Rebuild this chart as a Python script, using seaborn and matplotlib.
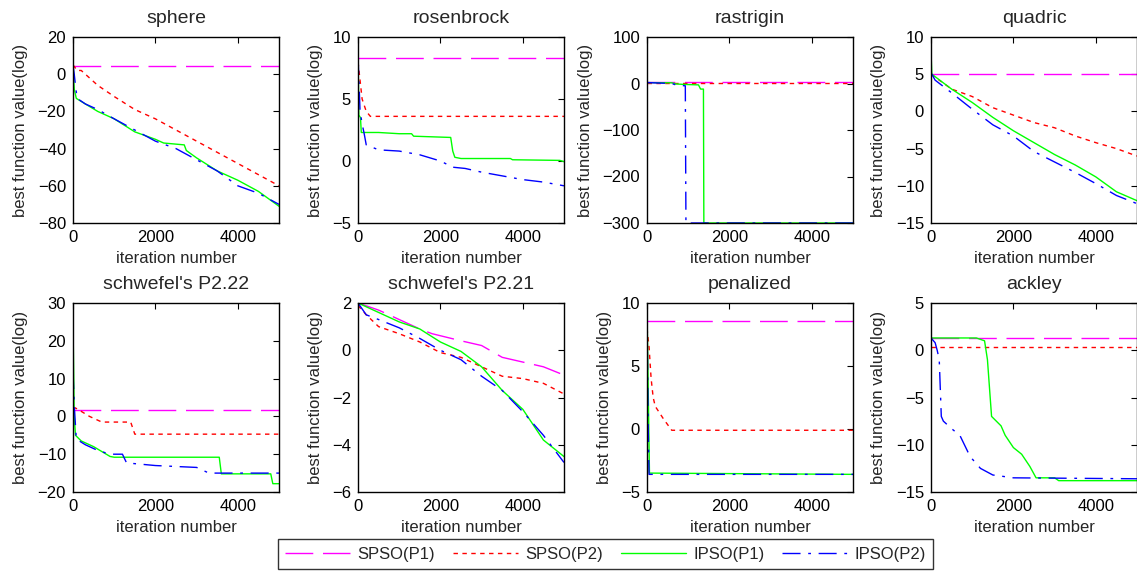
import numpy as np
import pandas as pd
import matplotlib
matplotlib.use("Agg")
import matplotlib.pyplot as plt
import seaborn as sns
from matplotlib.lines import Line2D

# === Data ===
series_names = ["SPSO(P1)", "SPSO(P2)", "IPSO(P1)", "IPSO(P2)"]
titles = ["sphere", "rosenbrock", "rastrigin", "quadric",
          "schwefel's P2.22", "schwefel's P2.21", "penalized", "ackley"]

# sphere
sph_s1_x = [0, 5000]
sph_s1_y = [4.5, 4.5]
sph_s2_x = [0, 100, 200, 600, 1000, 1500, 2000, 2500, 3000, 3500, 4000, 4500, 5000]
sph_s2_y = [5, 2, 2, -6, -12, -19, -24, -30, -36, -42, -48, -54, -60]
sph_i1_x = [0, 30, 80, 300, 600, 1000, 1500, 2000, 2200, 2700, 2750, 3000, 3500, 4000, 4500, 5000]
sph_i1_y = [5, -8, -13, -16, -20, -24, -31, -35, -37, -38, -41, -45, -52, -57, -63, -71]
sph_i2_x = [0, 30, 60, 100, 300, 600, 1000, 1500, 2000, 2500, 3000, 3500, 4000, 4500, 5000]
sph_i2_y = [5, 0, -6, -13, -16, -19, -24, -30, -36, -40, -46, -52, -60, -64, -70]

# rosenbrock
ros_s1_x = [0, 5000]
ros_s1_y = [8.3, 8.3]
ros_s2_x = [0, 50, 100, 200, 300, 5000]
ros_s2_y = [8, 6.5, 5, 4, 3.6, 3.6]
ros_i1_x = [0, 20, 60, 80, 500, 1000, 1300, 1350, 2250, 2300, 2350, 2500, 3700, 3750, 4900, 5000]
ros_i1_y = [9, 3.7, 3.5, 2.3, 2.3, 2.2, 2.2, 2.0, 1.9, 0.8, 0.3, 0.2, 0.2, 0.1, 0.05, -0.05]
ros_i2_x = [0, 50, 100, 150, 200, 500, 1000, 1500, 2000, 2300, 2600, 3000, 3500, 4000, 4500, 5000]
ros_i2_y = [8.5, 4, 3, 2.2, 1.3, 0.9, 0.8, 0.5, 0, -0.5, -0.6, -0.9, -1.2, -1.5, -1.7, -2.0]

# rastrigin
ras_s1_x = [0, 5000]
ras_s1_y = [2.5, 2.5]
ras_s2_x = [0, 5000]
ras_s2_y = [1.8, 1.8]
ras_i1_x = [0, 600, 700, 900, 1250, 1300, 1370, 1380, 5000]
ras_i1_y = [2, 1.5, -1, -2, -3, -12, -12, -300, -300]
ras_i2_x = [0, 600, 700, 930, 945, 5000]
ras_i2_y = [2, 0, -3, -5, -300, -300]

# quadric
qua_s1_x = [0, 5000]
qua_s1_y = [5, 5]
qua_s2_x = [0, 500, 1000, 1500, 2000, 2500, 3000, 3500, 4000, 4500, 5000]
qua_s2_y = [5, 3, 2, 0.5, -0.5, -1.5, -2.2, -3.3, -4.2, -5, -6]
qua_i1_x = [0, 20, 500, 1000, 1500, 2000, 2500, 3000, 3500, 4000, 4500, 5000]
qua_i1_y = [8, 5, 3, 1.2, -0.8, -2.6, -4.2, -5.8, -7.2, -8.8, -10.8, -12]
qua_i2_x = [0, 100, 500, 1000, 1500, 2000, 2500, 3000, 3500, 4000, 4500, 5000]
qua_i2_y = [5.2, 4.2, 2.5, 0.3, -1.8, -3.3, -5.4, -6.8, -8.2, -9.7, -11.3, -12.4]

# schwefel's P2.22
s22_s1_x = [0, 5000]
s22_s1_y = [1.8, 1.8]
s22_s2_x = [0, 100, 400, 700, 1400, 1500, 5000]
s22_s2_y = [2.5, 2, 0, -1.5, -1.5, -4.7, -4.7]
s22_i1_x = [0, 30, 60, 200, 500, 900, 1000, 3550, 3600, 4800, 4850, 5000]
s22_i1_y = [25, 0, -5, -6.5, -8, -10.6, -10.8, -10.8, -15.2, -15.2, -17.8, -17.8]
s22_i2_x = [0, 30, 80, 300, 600, 900, 1200, 1300, 2000, 3000, 3300, 5000]
s22_i2_y = [12, 3, -6, -7.5, -9, -10, -10, -12.3, -13, -13.5, -15, -15]

# schwefel's P2.21
s21_s1_x = [0, 500, 1000, 1500, 1800, 2500, 3000, 3500, 4000, 4500, 5000]
s21_s1_y = [2, 1.7, 1.3, 0.9, 0.7, 0.4, 0.2, -0.3, -0.5, -0.7, -1.05]
s21_s2_x = [0, 200, 500, 1000, 1500, 2000, 2500, 3000, 3500, 4000, 4500, 5000]
s21_s2_y = [1.9, 1.5, 1.0, 0.7, 0.35, -0.1, -0.3, -0.7, -1.1, -1.2, -1.4, -1.85]
s21_i1_x = [0, 500, 1000, 1500, 2000, 2500, 3000, 3500, 4000, 4500, 5000]
s21_i1_y = [2, 1.6, 1.2, 0.9, 0.35, -0.05, -0.7, -1.7, -2.5, -3.8, -4.5]
s21_i2_x = [0, 200, 500, 1000, 1500, 2000, 2500, 3000, 3500, 4000, 4500, 5000]
s21_i2_y = [2, 1.5, 1.3, 0.95, 0.5, 0, -0.4, -1.1, -1.7, -2.6, -3.6, -4.75]

# penalized
pen_s1_x = [0, 5000]
pen_s1_y = [8.6, 8.6]
pen_s2_x = [0, 50, 100, 150, 200, 400, 600, 5000]
pen_s2_y = [8, 6.5, 4, 2.5, 1.8, 0.8, -0.1, -0.1]
pen_i1_x = [0, 30, 60, 5000]
pen_i1_y = [9.5, 3, -3.5, -3.6]
pen_i2_x = [0, 30, 50, 5000]
pen_i2_y = [9, 0, -3.6, -3.6]

# ackley
ack_s1_x = [0, 5000]
ack_s1_y = [1.3, 1.3]
ack_s2_x = [0, 5000]
ack_s2_y = [0.3, 0.3]
ack_i1_x = [0, 1100, 1300, 1370, 1420, 1470, 1700, 1800, 2000, 2200, 2400, 2550, 3000, 3100, 5000]
ack_i1_y = [1.3, 1.3, 1.0, -1, -4, -7, -8, -9, -10.3, -11, -12.3, -13.5, -13.5, -13.8, -13.8]
ack_i2_x = [0, 100, 150, 200, 250, 300, 500, 700, 900, 1000, 1200, 1500, 2000, 5000]
ack_i2_y = [1.3, 0.8, 0, -1, -7, -7.5, -8.3, -9, -10.8, -11.5, -12.5, -13.2, -13.5, -13.6]

panels = [
    [(sph_s1_x, sph_s1_y), (sph_s2_x, sph_s2_y), (sph_i1_x, sph_i1_y), (sph_i2_x, sph_i2_y)],
    [(ros_s1_x, ros_s1_y), (ros_s2_x, ros_s2_y), (ros_i1_x, ros_i1_y), (ros_i2_x, ros_i2_y)],
    [(ras_s1_x, ras_s1_y), (ras_s2_x, ras_s2_y), (ras_i1_x, ras_i1_y), (ras_i2_x, ras_i2_y)],
    [(qua_s1_x, qua_s1_y), (qua_s2_x, qua_s2_y), (qua_i1_x, qua_i1_y), (qua_i2_x, qua_i2_y)],
    [(s22_s1_x, s22_s1_y), (s22_s2_x, s22_s2_y), (s22_i1_x, s22_i1_y), (s22_i2_x, s22_i2_y)],
    [(s21_s1_x, s21_s1_y), (s21_s2_x, s21_s2_y), (s21_i1_x, s21_i1_y), (s21_i2_x, s21_i2_y)],
    [(pen_s1_x, pen_s1_y), (pen_s2_x, pen_s2_y), (pen_i1_x, pen_i1_y), (pen_i2_x, pen_i2_y)],
    [(ack_s1_x, ack_s1_y), (ack_s2_x, ack_s2_y), (ack_i1_x, ack_i1_y), (ack_i2_x, ack_i2_y)],
]
ylims = [(-80, 20), (-5, 10), (-300, 100), (-15, 10),
         (-20, 30), (-6, 2), (-5, 10), (-15, 5)]
yticks = [[-80, -60, -40, -20, 0, 20], [-5, 0, 5, 10], [-300, -200, -100, 0, 100],
          [-15, -10, -5, 0, 5, 10], [-20, -10, 0, 10, 20, 30], [-6, -4, -2, 0, 2],
          [-5, 0, 5, 10], [-15, -10, -5, 0, 5]]

colors = ["#ff00ff", "#ff0000", "#00ff00", "#0000ff"]
styles = [(0, (20, 7)), (0, (3.2, 3.2)), "-", (0, (13, 5.5, 2, 5.5))]

# === Style ===
sns.set_style("white")
plt.rcParams['font.family'] = ['Liberation Sans', 'DejaVu Sans']
plt.rcParams['font.size'] = 12

fig = plt.figure(figsize=(11.37, 5.71), dpi=100)
W, H = 1137, 571
lefts = [73, 358, 647, 931]
row_top = [37, 303]
row_bot = [223, 492]
aw = 206

for k in range(8):
    r, c = divmod(k, 4)
    ax = fig.add_axes([lefts[c] / W, (H - row_bot[r]) / H, aw / W, (row_bot[r] - row_top[r]) / H])
    for j, (xs, ys) in enumerate(panels[k]):
        df = pd.DataFrame({"iter": xs, "val": ys})
        sns.lineplot(data=df, x="iter", y="val", ax=ax, estimator=None,
                     color=colors[j], linestyle=styles[j], linewidth=1.0)
    ax.set_xlim(0, 5000)
    ax.set_ylim(*ylims[k])
    ax.set_xticks([0, 2000, 4000])
    ax.set_yticks(yticks[k])
    ax.set_title(titles[k], fontsize=14, pad=10)
    ax.set_xlabel("iteration number", fontsize=12, labelpad=4.5)
    ax.set_ylabel("best function value(log)", fontsize=12, labelpad=6.7)
    ax.tick_params(direction="in", length=4, width=0.8, top=True, right=True,
                   labelsize=12, pad=5, colors="black")
    for s in ax.spines.values():
        s.set_color("black")
        s.set_linewidth(1.0)

handles = [Line2D([], [], color=colors[j], linestyle=styles[j], linewidth=1.0) for j in range(4)]
fig.legend(handles, series_names, loc="center", bbox_to_anchor=(605.5 / W, (H - 554) / H),
           ncol=4, frameon=True, fancybox=False, edgecolor="black", fontsize=12,
           handlelength=3.9, columnspacing=1.05, handletextpad=0.45, borderpad=0.45,
           borderaxespad=0)
fig.legends[0].get_frame().set_linewidth(1.0)

fig.savefig("out.png", dpi=100)
